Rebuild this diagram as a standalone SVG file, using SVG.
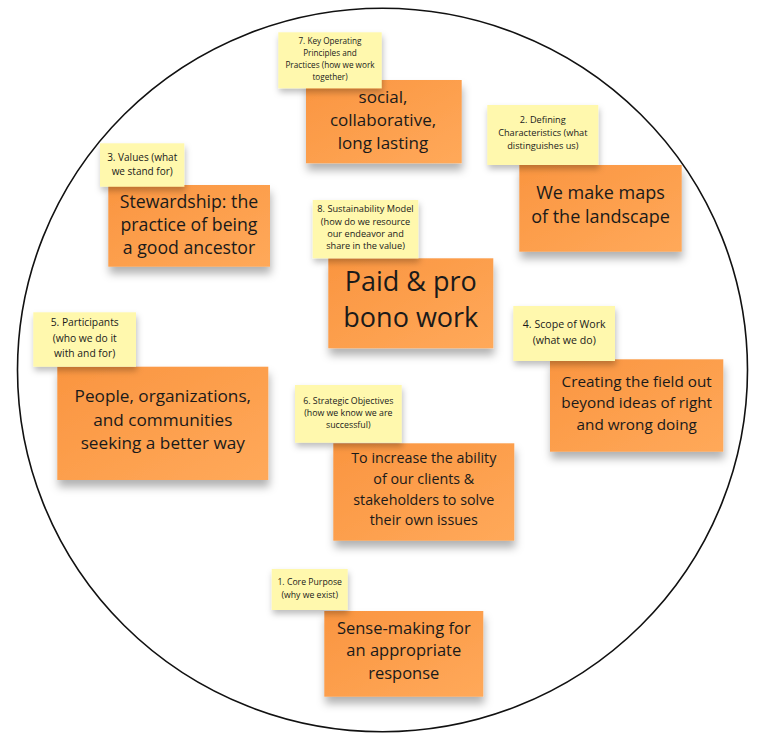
<svg xmlns="http://www.w3.org/2000/svg" width="771" height="750" viewBox="0 0 771 750">
<defs>
<linearGradient id="og" x1="0" y1="0" x2="1" y2="1">
<stop offset="0" stop-color="#fa9540"/>
<stop offset="1" stop-color="#ffa95a"/>
</linearGradient>
<filter id="sh" x="-10%" y="-10%" width="120%" height="135%">
<feDropShadow dx="1" dy="7" stdDeviation="4" flood-color="#000" flood-opacity="0.3"/>
</filter>
<filter id="shy" x="-10%" y="-10%" width="120%" height="135%">
<feDropShadow dx="1" dy="4" stdDeviation="3" flood-color="#000" flood-opacity="0.26"/>
</filter>
</defs>
<style>
.o{fill:url(#og);filter:url(#sh)}
.y{fill:#fff8ad;filter:url(#shy)}
text{font-family:"Open Sans","Noto Sans","Liberation Sans",sans-serif;fill:#1a1a1a;text-anchor:middle}
</style>
<rect width="771" height="750" fill="#fff"/>
<ellipse cx="382.5" cy="370" rx="365" ry="361.7" fill="#fff" stroke="#111" stroke-width="1.6"/>

<g id="n7">
<rect class="o" x="306" y="80" width="155.7" height="83.3"/>
<text font-size="17"><tspan x="383" y="103">social,</tspan><tspan x="383" y="126">collaborative,</tspan><tspan x="383" y="149">long lasting</tspan></text>
<rect class="y" x="278.3" y="32.3" width="103.4" height="56"/>
<text font-size="8.2"><tspan x="330" y="43.7">7. Key Operating</tspan><tspan x="330" y="55.6">Principles and</tspan><tspan x="330" y="67.6">Practices (how we work</tspan><tspan x="330" y="79.5">together)</tspan></text>
</g>

<g id="n2">
<rect class="o" x="519.3" y="165" width="162.4" height="86.7"/>
<text font-size="18"><tspan x="600.5" y="199.3">We make maps</tspan><tspan x="600.5" y="222.7">of the landscape</tspan></text>
<rect class="y" x="487.3" y="105" width="111" height="60"/>
<text font-size="9.2"><tspan x="542.8" y="123">2. Defining</tspan><tspan x="542.8" y="136">Characteristics (what</tspan><tspan x="542.8" y="149">distinguishes us)</tspan></text>
</g>

<g id="n3">
<rect class="o" x="108.3" y="185" width="161.7" height="81.7"/>
<text font-size="17.7"><tspan x="189" y="207.5">Stewardship: the</tspan><tspan x="189" y="230.8">practice of being</tspan><tspan x="189" y="254.1">a good ancestor</tspan></text>
<rect class="y" x="100" y="143.3" width="84.3" height="43.4"/>
<text font-size="10"><tspan x="142.2" y="160.6">3. Values (what</tspan><tspan x="142.2" y="175">we stand for)</tspan></text>
</g>

<g id="n8">
<rect class="o" x="328.3" y="258.3" width="165" height="90"/>
<text font-size="27"><tspan x="410.8" y="290.7">Paid &amp; pro</tspan><tspan x="410.8" y="327.3">bono work</tspan></text>
<rect class="y" x="312.7" y="200" width="105.6" height="58.3"/>
<text font-size="9.2"><tspan x="365.5" y="212.3">8. Sustainability Model</tspan><tspan x="365.5" y="224.7">(how do we resource</tspan><tspan x="365.5" y="237">our endeavor and</tspan><tspan x="365.5" y="249.3">share in the value)</tspan></text>
</g>

<g id="n5">
<rect class="o" x="57.3" y="366.7" width="211" height="113.3"/>
<text font-size="17.2"><tspan x="162.8" y="402.4">People, organizations,</tspan><tspan x="162.8" y="425.7">and communities</tspan><tspan x="162.8" y="449">seeking a better way</tspan></text>
<rect class="y" x="33.3" y="312.3" width="102.7" height="54.4"/>
<text font-size="10.3"><tspan x="84.7" y="325.7">5. Participants</tspan><tspan x="84.7" y="341.5">(who we do it</tspan><tspan x="84.7" y="357">with and for)</tspan></text>
</g>

<g id="n4">
<rect class="o" x="550" y="359.3" width="173.3" height="92.4"/>
<text font-size="15.3"><tspan x="636.7" y="386.7">Creating the field out</tspan><tspan x="636.7" y="408.3">beyond ideas of right</tspan><tspan x="636.7" y="430">and wrong doing</tspan></text>
<rect class="y" x="513.3" y="306" width="101.7" height="55"/>
<text font-size="10.6"><tspan x="564.2" y="327.6">4. Scope of Work</tspan><tspan x="564.2" y="343.6">(what we do)</tspan></text>
</g>

<g id="n6">
<rect class="o" x="333.3" y="443.3" width="181" height="97.4"/>
<text font-size="14.3"><tspan x="423.8" y="463">To increase the ability</tspan><tspan x="423.8" y="484.3">of our clients &amp;</tspan><tspan x="423.8" y="504.6">stakeholders to solve</tspan><tspan x="423.8" y="524.9">their own issues</tspan></text>
<rect class="y" x="295" y="385" width="106.7" height="57.7"/>
<text font-size="8.8"><tspan x="348.3" y="403.6">6. Strategic Objectives</tspan><tspan x="348.3" y="416.2">(how we know we are</tspan><tspan x="348.3" y="428.2">successful)</tspan></text>
</g>

<g id="n1">
<rect class="o" x="324.3" y="611" width="159" height="85.7"/>
<text font-size="16.5"><tspan x="403.8" y="633.7">Sense-making for</tspan><tspan x="403.8" y="656.4">an appropriate</tspan><tspan x="403.8" y="678.9">response</tspan></text>
<rect class="y" x="271.7" y="569" width="76" height="41"/>
<text font-size="8.7"><tspan x="309.7" y="585.2">1. Core Purpose</tspan><tspan x="309.7" y="598">(why we exist)</tspan></text>
</g>

<g id="connectors"/>
</svg>
